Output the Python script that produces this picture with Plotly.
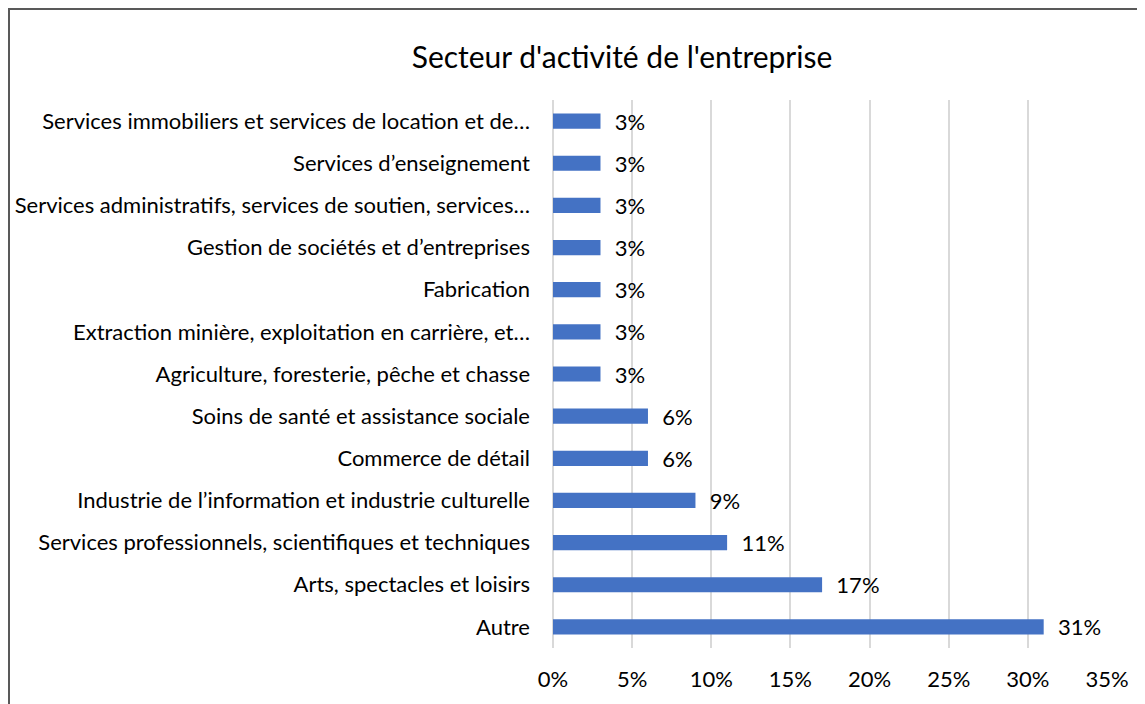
import plotly.graph_objects as go

categories = [
    "Autre",
    "Arts, spectacles et loisirs",
    "Services professionnels, scientifiques et techniques",
    "Industrie de l\u2019information et industrie culturelle",
    "Commerce de détail",
    "Soins de santé et assistance sociale",
    "Agriculture, foresterie, pêche et chasse",
    "Extraction minière, exploitation en carrière, et\u2026",
    "Fabrication",
    "Gestion de sociétés et d\u2019entreprises",
    "Services administratifs, services de soutien, services\u2026",
    "Services d\u2019enseignement",
    "Services immobiliers et services de location et de\u2026",
]
values = [0.31, 0.17, 0.11, 0.09, 0.06, 0.06, 0.03, 0.03, 0.03, 0.03, 0.03, 0.03, 0.03]
value_labels = ["31%", "17%", "11%", "9%", "6%", "6%", "3%", "3%", "3%", "3%", "3%", "3%", "3%"]
x_ticks = [0, 0.05, 0.10, 0.15, 0.20, 0.25, 0.30, 0.35]
x_tick_labels = ["0%", "5%", "10%", "15%", "20%", "25%", "30%", "35%"]
title = "Secteur d'activité de l'entreprise"

# page body has an 8px default margin: work in page coords and offset
OFF = 8
W, H = 1145 - OFF, 704 - OFF
L, R, T, B = 553 - OFF, 1107 - OFF, 100 - OFF, 648 - OFF
FONT = "Lato, Carlito, Calibri, sans-serif"
FS = 22


def px_x(px):
    return (px - OFF - L) / (R - L)


def px_y(py):
    return (B - (py - OFF)) / (B - T)


fig = go.Figure()
fig.add_trace(go.Bar(
    y=categories,
    x=values,
    orientation="h",
    marker=dict(color="#4472C4", line=dict(width=0)),
    width=0.36,
    text=["  " + t for t in value_labels],
    textposition="outside",
    constraintext="none",
    textfont=dict(family=FONT, size=FS, color="#000000"),
    cliponaxis=False,
    hoverinfo="skip",
))

fig.update_layout(
    width=W,
    height=H,
    margin=dict(l=L, r=W - R, t=T, b=H - B, autoexpand=False),
    paper_bgcolor="white",
    plot_bgcolor="white",
    showlegend=False,
    font=dict(family=FONT, size=FS, color="#000000"),
    title=dict(
        text=title,
        x=(622 - OFF) / W,
        xref="container",
        xanchor="center",
        y=1 - (57 - OFF) / H,
        yref="container",
        yanchor="middle",
        font=dict(family=FONT, size=30, color="#000000"),
    ),
    xaxis=dict(
        range=[0, 0.35],
        tickvals=x_ticks,
        ticktext=x_tick_labels,
        showgrid=True,
        gridcolor="#D9D9D9",
        gridwidth=1.5,
        zeroline=True,
        zerolinecolor="#D9D9D9",
        zerolinewidth=1.5,
        showline=False,
        ticks="",
        ticklabelstandoff=16,
        tickfont=dict(family=FONT, size=FS, color="#000000"),
        fixedrange=True,
    ),
    yaxis=dict(
        categoryorder="array",
        categoryarray=categories,
        showgrid=False,
        zeroline=False,
        showline=False,
        ticks="",
        ticklabelstandoff=22,
        tickfont=dict(family=FONT, size=FS, color="#000000"),
        fixedrange=True,
    ),
)

fig.add_shape(
    type="rect",
    xref="paper", yref="paper",
    x0=px_x(9), x1=px_x(1170),
    y0=px_y(730), y1=px_y(9),
    line=dict(color="#595959", width=2),
    fillcolor="rgba(0,0,0,0)",
    layer="above",
)

fig.write_html("out.html")
